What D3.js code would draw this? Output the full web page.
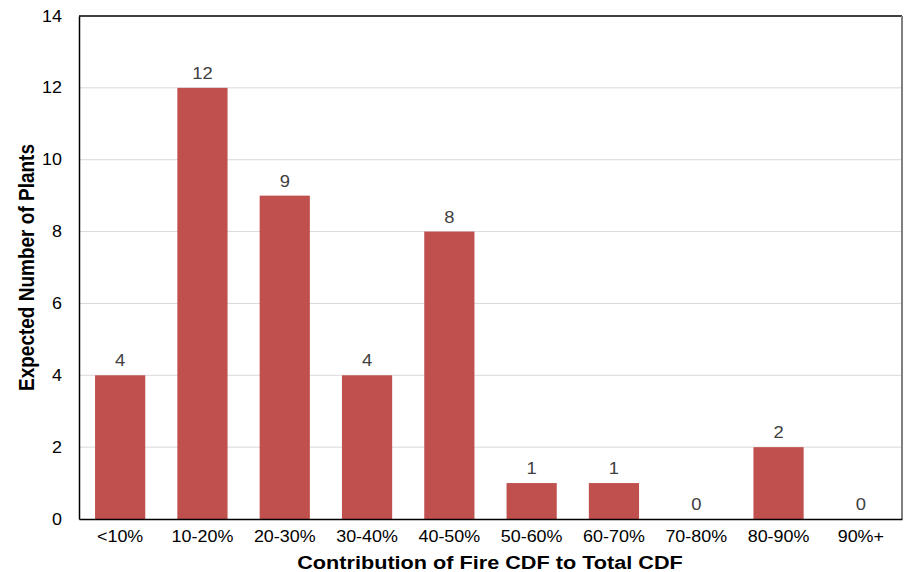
<!DOCTYPE html>
<html>
<head>
<meta charset="utf-8">
<script src="https://cdn.jsdelivr.net/npm/d3@7"></script>
<style>
  body { margin: 0; background: #fff; }
  text { font-family: "Liberation Sans", Arial, sans-serif; }
</style>
</head>
<body>
<svg id="chart" width="907" height="572"></svg>
<script>
// Expected number of plants per fire-CDF contribution bin
const categories = ["<10%", "10-20%", "20-30%", "30-40%", "40-50%", "50-60%", "60-70%", "70-80%", "80-90%", "90%+"];
const plantCounts = [4, 12, 9, 4, 8, 1, 1, 0, 2, 0];
const yTicks = [0, 2, 4, 6, 8, 10, 12, 14];

const svg = d3.select("#chart");
const margin = { top: 16, right: 5, bottom: 53, left: 79 };
const width = 907 - margin.left - margin.right;
const height = 572 - margin.top - margin.bottom;
const FONT = "Liberation Sans, Arial, sans-serif";

// widen a text horizontally around its anchor point
function widen(sel, sx) {
  sel.each(function () {
    const t = d3.select(this);
    const x0 = +t.attr("x") || 0;
    t.attr("transform", `translate(${x0},0) scale(${sx},1) translate(${-x0},0)`);
  });
}

const g = svg.append("g").attr("transform", `translate(${margin.left},${margin.top})`);

const x = d3.scaleBand().domain(categories).range([0, width]).paddingInner(0.39).paddingOuter(0.195);
const y = d3.scaleLinear().domain([0, 14]).range([height, 0]);

// horizontal gridlines
g.selectAll("line.grid")
  .data(yTicks.filter(t => t > 0 && t < 14))
  .join("line")
  .attr("class", "grid")
  .attr("x1", 0).attr("x2", width)
  .attr("y1", d => y(d)).attr("y2", d => y(d))
  .attr("stroke", "#d9d9d9").attr("stroke-width", 1);

// bars
g.selectAll("rect.bar")
  .data(plantCounts)
  .join("rect")
  .attr("class", "bar")
  .attr("x", (d, i) => x(categories[i]))
  .attr("width", x.bandwidth())
  .attr("y", d => y(d))
  .attr("height", d => height - y(d))
  .attr("fill", "#c0504d");

// value labels
g.selectAll("text.val")
  .data(plantCounts)
  .join("text")
  .attr("class", "val")
  .attr("x", (d, i) => x(categories[i]) + x.bandwidth() / 2)
  .attr("y", d => y(d) - 9)
  .attr("text-anchor", "middle")
  .attr("font-size", 16)
  .attr("fill", "#404040")
  .text(d => d)
  .call(widen, 1.15);

// plot frame
g.append("line").attr("x1", 0).attr("x2", width).attr("y1", 0).attr("y2", 0).attr("stroke", "#000").attr("stroke-width", 1.5);
g.append("line").attr("x1", width).attr("x2", width).attr("y1", 0).attr("y2", height).attr("stroke", "#808080").attr("stroke-width", 2);

// y axis
const yAxis = g.append("g").call(d3.axisLeft(y).tickValues(yTicks).tickSize(0).tickPadding(17));
yAxis.select(".domain").attr("stroke", "#000").attr("stroke-width", 1.5);
yAxis.selectAll("text").attr("font-size", 16).attr("fill", "#000").attr("font-family", FONT).call(widen, 1.12);

// x axis
const xAxis = g.append("g").attr("transform", `translate(0,${height})`)
  .call(d3.axisBottom(x).tickSize(0).tickPadding(12));
xAxis.select(".domain").attr("stroke", "#000").attr("stroke-width", 1.5);
xAxis.selectAll("text").attr("font-size", 16).attr("fill", "#000").attr("font-family", FONT).call(widen, 1.12);

// axis titles
svg.append("text")
  .attr("transform", `translate(490,569) scale(1.14,1)`)
  .attr("text-anchor", "middle")
  .attr("font-size", 19)
  .attr("font-weight", "bold")
  .text("Contribution of Fire CDF to Total CDF");

svg.append("text")
  .attr("transform", `translate(34,${margin.top + y(7)}) scale(1.15,1) rotate(-90)`)
  .attr("text-anchor", "middle")
  .attr("font-size", 19)
  .attr("font-weight", "bold")
  .text("Expected Number of Plants");
</script>
</body>
</html>
